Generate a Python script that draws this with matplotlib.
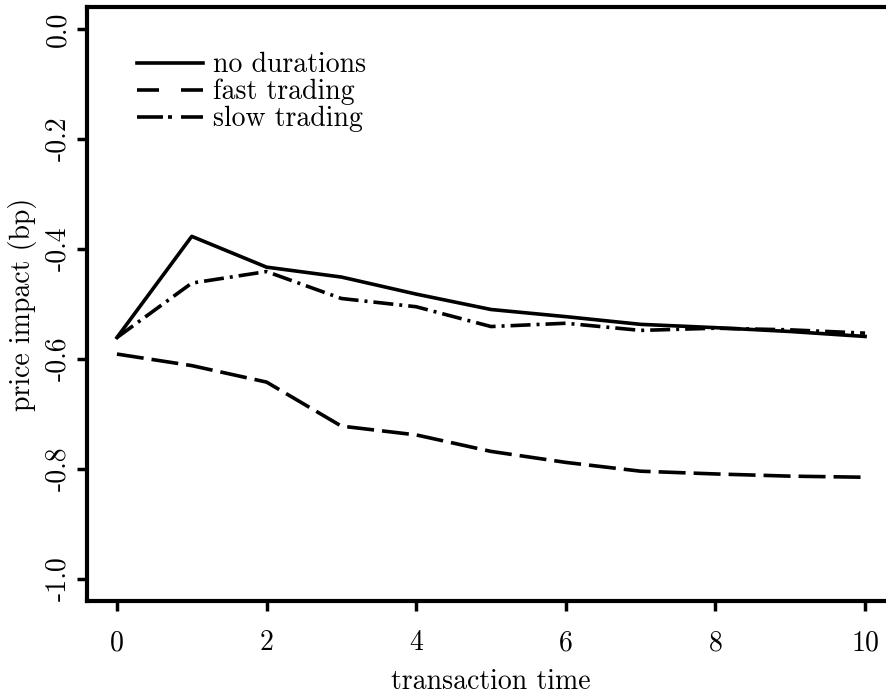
import matplotlib
matplotlib.use("Agg")
import matplotlib.pyplot as plt
from matplotlib.lines import Line2D

plt.rcParams['font.family'] = ['cmr10', 'DejaVu Serif']
plt.rcParams['axes.unicode_minus'] = False
plt.rcParams['mathtext.fontset'] = 'cm'
plt.rcParams['lines.scale_dashes'] = False

t = list(range(11))
no_durations = [-0.561, -0.377, -0.433, -0.451, -0.482, -0.510, -0.523, -0.537, -0.543, -0.550, -0.559]
fast_trading = [-0.591, -0.612, -0.642, -0.722, -0.738, -0.768, -0.788, -0.804, -0.809, -0.813, -0.815]
slow_trading = [-0.561, -0.462, -0.441, -0.490, -0.505, -0.541, -0.535, -0.548, -0.544, -0.547, -0.553]
labels = ["no durations", "fast trading", "slow trading"]
xticks = [0, 2, 4, 6, 8, 10]
yticks = [0.0, -0.2, -0.4, -0.6, -0.8, -1.0]
yticklabels = ["0.0", "-0.2", "-0.4", "-0.6", "-0.8", "-1.0"]

W, H = 886, 700
fig = plt.figure(figsize=(W / 100, H / 100), dpi=100)
x0, x1, ytop, ybot = 87, 895, 7, 601
ax = fig.add_axes([x0 / W, (H - ybot) / H, (x1 - x0) / W, (ybot - ytop) / H])

px = 0.72
lw = 2.6
dash_fast = (0, (27 * px, 8 * px))
dash_slow = (0, (20 * px, 6 * px, 3 * px, 6 * px))
ax.plot(t, no_durations, color='black', lw=lw)
ax.plot(t, fast_trading, color='black', lw=lw, linestyle=dash_fast, dash_capstyle='butt')
ax.plot(t, slow_trading, color='black', lw=lw, linestyle=dash_slow, dash_capstyle='butt')

ax.set_xlim(-0.4, 10.4)
ax.set_ylim(-1.04, 0.04)
ax.set_xticks(xticks)
ax.set_xticklabels([str(v) for v in xticks])
ax.set_yticks(yticks)
ax.set_yticklabels(yticklabels, rotation=90, va='center')

for s in ['left', 'bottom', 'top', 'right']:
    ax.spines[s].set_linewidth(3)
ax.tick_params(axis='both', width=2.5, length=7, labelsize=20, direction='out')
ax.tick_params(axis='x', pad=14)
ax.tick_params(axis='y', pad=4)

ax.set_xlabel("transaction time", fontsize=20, labelpad=9)
ax.set_ylabel("price impact (bp)", fontsize=20, labelpad=6)

h1 = Line2D([], [], color='black', lw=lw)
h2 = Line2D([], [], color='black', lw=lw, linestyle=(0, (22 * px, 22 * px)), dash_capstyle='butt')
h3 = Line2D([], [], color='black', lw=lw, linestyle=(0, (26 * px, 5 * px, 4 * px, 9 * px)),
            dash_capstyle='butt')
leg = ax.legend([h1, h2, h3], labels, loc='upper left',
                bbox_to_anchor=((137) / W, (H - 52) / H), bbox_transform=fig.transFigure,
                frameon=False, fontsize=20, handlelength=2.37, handletextpad=0.38,
                labelspacing=0.02, borderpad=0, borderaxespad=0)

fig.savefig("out.png", dpi=100)
